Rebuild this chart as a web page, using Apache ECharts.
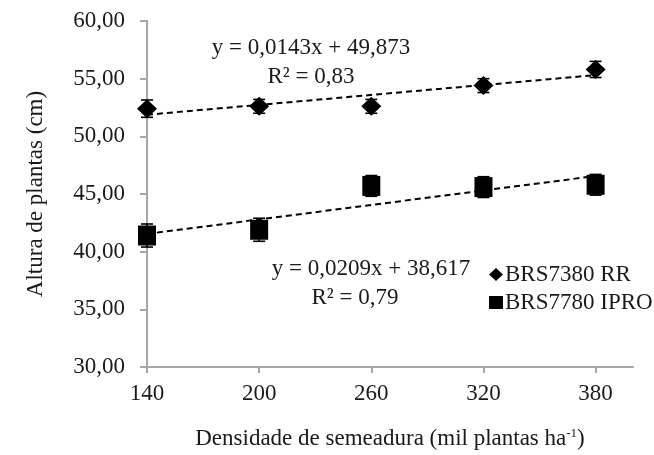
<!DOCTYPE html>
<html>
<head>
<meta charset="utf-8">
<script src="https://cdn.jsdelivr.net/npm/echarts@6/dist/echarts.min.js"></script>
<style>
  html, body { margin: 0; padding: 0; background: #fff; }
  #chart { width: 654px; height: 455px; }
</style>
</head>
<body>
<div id="chart"></div>
<script>
// densidade de semeadura (mil plantas/ha)
const densidade = [140, 200, 260, 320, 380];
// altura de plantas (cm)
const rr = [52.4, 52.6, 52.6, 54.4, 55.8];
const rrErr = [0.75, 0.6, 0.6, 0.6, 0.7];
const ipro = [41.4, 41.9, 45.7, 45.6, 45.8];
const iproErr = [1.0, 1.0, 0.9, 0.9, 0.9];
// linhas de tendencia (extremos 140 e 380)
const trendX = [140, 380];
const rrTrend = [51.87, 55.31];
const iproTrend = [41.54, 46.56];
const yTicks = [30, 35, 40, 45, 50, 55, 60];

const fontFam = '"Liberation Serif", "DejaVu Serif", serif';
const fs = 23;
const txtColor = '#1a1a1a';
const axisColor = '#a6a6a6';

const chart = echarts.init(document.getElementById('chart'));

function pairs(xs, ys) { return xs.map((x, i) => [x, ys[i]]); }
function errData(ys, es) { return densidade.map((x, i) => [x, ys[i] - es[i], ys[i] + es[i]]); }

// barras de erro
function renderErr(params, api) {
  const x = api.value(0);
  const lo = api.coord([x, api.value(1)]);
  const hi = api.coord([x, api.value(2)]);
  const cap = 6;
  const st = { stroke: '#000', lineWidth: 1.6 };
  return {
    type: 'group',
    children: [
      { type: 'line', shape: { x1: lo[0], y1: lo[1], x2: hi[0], y2: hi[1] }, style: st },
      { type: 'line', shape: { x1: lo[0] - cap, y1: lo[1], x2: lo[0] + cap, y2: lo[1] }, style: st },
      { type: 'line', shape: { x1: hi[0] - cap, y1: hi[1], x2: hi[0] + cap, y2: hi[1] }, style: st }
    ]
  };
}

function note(text, x, y) {
  return {
    type: 'text', x: x, y: y,
    style: { text: text, fontFamily: fontFam, fontSize: fs, fill: txtColor, textAlign: 'center', textVerticalAlign: 'middle' }
  };
}

const option = {
  backgroundColor: '#fff',
  animation: false,
  textStyle: { fontFamily: fontFam },
  grid: { left: 147, right: 21, top: 21, bottom: 81 },
  legend: {
    data: [
      { name: 'BRS7380 RR', icon: 'diamond', itemStyle: { color: '#000', opacity: 1 } },
      { name: 'BRS7780 IPRO', icon: 'rect', itemStyle: { color: '#000', opacity: 1 } }
    ],
    orient: 'vertical',
    left: 484,
    top: 258,
    itemWidth: 14,
    itemHeight: 13,
    itemGap: 5,
    textStyle: { fontFamily: fontFam, fontSize: fs, color: txtColor, padding: [0, 0, 0, -3] }
  },
  xAxis: {
    type: 'value',
    min: 140,
    max: 400,
    name: 'Densidade de semeadura (mil plantas ha{s|-1})',
    nameLocation: 'middle',
    nameGap: 60,
    nameTextStyle: {
      fontFamily: fontFam, fontSize: fs, color: txtColor,
      rich: { s: { fontFamily: fontFam, fontSize: 13, verticalAlign: 'top', color: txtColor, padding: [0, 0, 10, 0] } }
    },
    axisLine: { lineStyle: { color: axisColor, width: 2 } },
    axisTick: { show: true, length: 6, lineStyle: { color: axisColor, width: 2 }, customValues: densidade },
    axisLabel: { customValues: densidade, margin: 15, fontSize: fs, color: txtColor, fontFamily: fontFam },
    splitLine: { show: false }
  },
  yAxis: {
    type: 'value',
    min: 30,
    max: 60,
    interval: 5,
    name: 'Altura de plantas (cm)',
    nameLocation: 'middle',
    nameGap: 100,
    nameTextStyle: { fontFamily: fontFam, fontSize: fs, color: txtColor },
    axisLine: { show: true, lineStyle: { color: axisColor, width: 2 } },
    axisTick: { show: true, length: 7, lineStyle: { color: axisColor, width: 2 }, customValues: yTicks },
    axisLabel: {
      customValues: yTicks,
      margin: 22, fontSize: fs, color: txtColor, fontFamily: fontFam,
      formatter: v => v.toFixed(2).replace('.', ',')
    },
    splitLine: { show: false }
  },
  series: [
    {
      name: 'tendencia RR', type: 'line', data: pairs(trendX, rrTrend),
      symbol: 'none', silent: true, z: 1,
      lineStyle: { color: '#000', width: 2, type: [6, 4] }
    },
    {
      name: 'tendencia IPRO', type: 'line', data: pairs(trendX, iproTrend),
      symbol: 'none', silent: true, z: 1,
      lineStyle: { color: '#000', width: 2, type: [6, 4] }
    },
    {
      name: 'BRS7380 RR', type: 'scatter', data: pairs(densidade, rr),
      symbol: 'diamond', symbolSize: [20, 19], z: 3,
      itemStyle: { color: '#000', opacity: 1 }
    },
    {
      name: 'BRS7780 IPRO', type: 'scatter', data: pairs(densidade, ipro),
      symbol: 'rect', symbolSize: [18, 20], z: 3,
      itemStyle: { color: '#000', opacity: 1 }
    },
    { name: 'erro RR', type: 'custom', renderItem: renderErr, data: errData(rr, rrErr), z: 4, silent: true },
    { name: 'erro IPRO', type: 'custom', renderItem: renderErr, data: errData(ipro, iproErr), z: 4, silent: true }
  ],
  graphic: [
    note('y = 0,0143x + 49,873', 311, 48),
    note('R² = 0,83', 311, 77),
    note('y = 0,0209x + 38,617', 371, 269),
    note('R² = 0,79', 355, 298)
  ]
};

chart.setOption(option);
window.addEventListener('resize', function () { chart.resize(); });
</script>
</body>
</html>
